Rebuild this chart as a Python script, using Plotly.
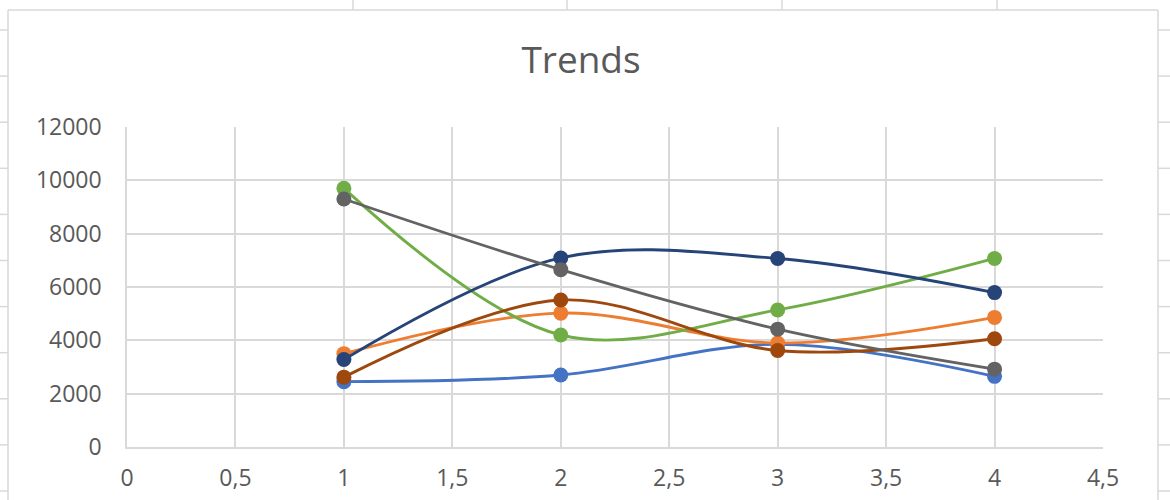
import plotly.graph_objects as go

# ---- data ----
x_vals = [1, 2, 3, 4]
series_names = ["Series 1", "Series 2", "Series 3", "Series 4", "Series 5", "Series 6"]
s1 = [2450, 2700, 3850, 2650]
s2 = [3500, 5020, 3900, 4860]
s3 = [9700, 4200, 5140, 7070]
s4 = [3280, 7090, 7070, 5790]
s5 = [2620, 5510, 3620, 4060]
s6 = [9300, 6650, 4420, 2920]
series_values = [s1, s2, s3, s4, s5, s6]
colors = ["#4472C4", "#ED7D31", "#70AD47", "#264478", "#9E480E", "#636363"]

x_tickvals = [0, 0.5, 1, 1.5, 2, 2.5, 3, 3.5, 4, 4.5]
x_ticktext = ["0", "0,5", "1", "1,5", "2", "2,5", "3", "3,5", "4", "4,5"]
y_tickvals = [0, 2000, 4000, 6000, 8000, 10000, 12000]
y_ticktext = ["0", "2000", "4000", "6000", "8000", "10000", "12000"]
title_text = "Trends"

# ---- layout geometry (pixels) ----
W, H = 1170, 500
L, R, T, B = 127, 1103, 127, 447
pw, ph = R - L, B - T


def px(x):
    return (x - L) / pw


def py(y):
    return (B - y) / ph


fig = go.Figure()
for name, vals, col in zip(series_names, series_values, colors):
    fig.add_trace(go.Scatter(
        x=x_vals, y=vals, name=name, mode="lines+markers",
        line=dict(color=col, width=2.9, shape="spline", smoothing=1.0),
        marker=dict(color=col, size=15, line=dict(width=0)),
    ))

grid = "#D9D9D9"
font_col = "#595959"
fnt = "Open Sans"

shapes = []
sheet = "#D9D9D9"
# chart area border
shapes.append(dict(type="line", xref="paper", yref="paper", x0=px(8), x1=px(8), y0=py(10), y1=py(510), line=dict(color=sheet, width=1.5)))
shapes.append(dict(type="line", xref="paper", yref="paper", x0=px(8), x1=px(1158), y0=py(10), y1=py(10), line=dict(color=sheet, width=1.5)))
shapes.append(dict(type="line", xref="paper", yref="paper", x0=px(1158), x1=px(1158), y0=py(10), y1=py(510), line=dict(color=sheet, width=1.5)))
# spreadsheet cell lines outside chart
for xv in [353, 567, 782, 997]:
    shapes.append(dict(type="line", xref="paper", yref="paper", x0=px(xv), x1=px(xv), y0=py(0), y1=py(10), line=dict(color=sheet, width=1.5)))
for k in range(11):
    yv = 30 + k * 46.1
    shapes.append(dict(type="line", xref="paper", yref="paper", x0=px(0), x1=px(8), y0=py(yv), y1=py(yv), line=dict(color=sheet, width=1.5)))
    shapes.append(dict(type="line", xref="paper", yref="paper", x0=px(1158), x1=px(1170), y0=py(yv), y1=py(yv), line=dict(color=sheet, width=1.5)))

fig.update_layout(
    width=W, height=H,
    margin=dict(l=L, r=W - R, t=T, b=H - B, pad=0, autoexpand=False),
    paper_bgcolor="white", plot_bgcolor="white",
    showlegend=False,
    title=dict(text=title_text, x=581 / W, xanchor="center", y=1 - 60 / H, yanchor="middle",
               font=dict(family=fnt, size=37, color=font_col)),
    xaxis=dict(range=[0, 4.5], tickvals=x_tickvals, ticktext=x_ticktext, automargin=False,
               showgrid=True, gridcolor=grid, gridwidth=1.5,
               showline=True, linecolor=grid, linewidth=1.5, mirror=False,
               zeroline=False, ticks="outside", ticklen=10, tickcolor="rgba(0,0,0,0)",
               tickfont=dict(family=fnt, size=23, color=font_col)),
    yaxis=dict(range=[0, 12000], tickvals=y_tickvals, ticktext=y_ticktext, automargin=False,
               showgrid=True, gridcolor=grid, gridwidth=1.5,
               showline=True, linecolor=grid, linewidth=1.5,
               zeroline=False, ticks="outside", ticklen=19, tickcolor="rgba(0,0,0,0)",
               tickfont=dict(family=fnt, size=23, color=font_col)),
    shapes=shapes,
)

fig.write_html("out.html")
